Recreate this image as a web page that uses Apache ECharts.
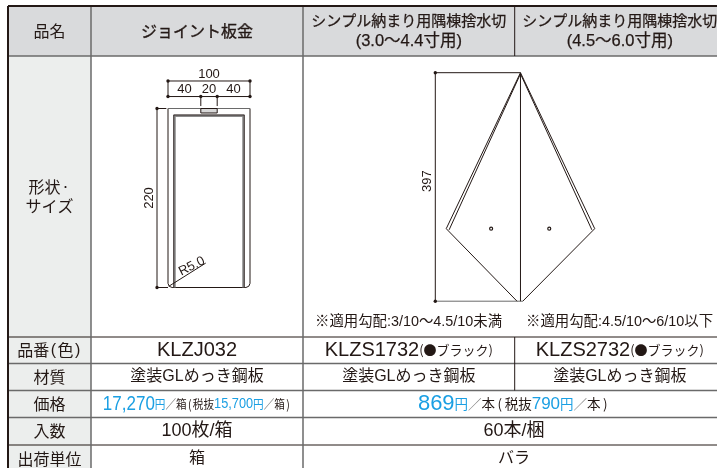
<!DOCTYPE html>
<html>
<head>
<meta charset="utf-8">
<style>
  html, body { margin: 0; padding: 0; background: #fff; }
  #main { width: 717px; height: 468px; }
</style>
<script src="https://cdn.jsdelivr.net/npm/echarts@6/dist/echarts.min.js"></script>
</head>
<body>
<div id="main"></div>
<script>
// table content
const rowNames = ['品名', '{m|形状}{d|・}\n{m|サイズ}', '{m|品番}{p|(}{m|色}{p|)}', '材質', '価格', '入数', '出荷単位'];
const productNames = ['ジョイント板金', 'シンプル納まり用隅棟捨水切', 'シンプル納まり用隅棟捨水切'];
const productRanges = ['', '(3.0〜4.4寸用)', '(4.5〜6.0寸用)'];
const productCodes = ['KLZJ032', 'KLZS1732', 'KLZS2732'];
const colorNote = '(●ブラック)';
const slopeNotes = ['※適用勾配:3/10〜4.5/10未満', '※適用勾配:4.5/10〜6/10以下'];
const material = '塗装GLめっき鋼板';
const prices = ['17,270', '869'];
const taxFreePrices = ['15,700', '790'];
const priceUnits = ['箱', '本'];
const packCounts = ['100枚/箱', '60本/梱'];
const shipUnits = ['箱', 'バラ'];

// drawing dimensions, mm
const plateWidth = 100;
const plateParts = [40, 20, 40];
const plateHeight = 220;
const plateRadius = 5;
const flashingHeight = 397;
const flashingHalf = 129;
const flashingShoulder = 271;
const flashingHoles = [-51, 50];

// table layout, px
const colX = [8, 91, 303, 514.7, 725];
const rowY = [6, 56, 337, 363.5, 390.5, 417.5, 445, 472];
const DARK = '#231815';
const GRAY = '#6a6a6a';
const BLUE = '#1a9fe3';
const FONT = '"Liberation Sans","Noto Sans CJK JP",sans-serif';
const CJK = '"Noto Sans CJK JP",sans-serif';

function midX(a, b) { return (colX[a] + colX[b]) / 2; }
function midY(r) { return (rowY[r] + rowY[r + 1]) / 2; }

function seg(api, pts, stroke, lineWidth) {
  return {
    type: 'polyline',
    shape: { points: pts.map(function (p) { return api.coord(p); }) },
    style: { fill: 'none', stroke: stroke || DARK, lineWidth: lineWidth || 1 }
  };
}
function dot(api, p) {
  const c = api.coord(p);
  return { type: 'circle', shape: { cx: c[0], cy: c[1], r: 1.7 }, style: { fill: DARK } };
}
function label(api, p, text, size, extra) {
  const c = api.coord(p);
  const el = {
    type: 'text', x: c[0], y: c[1],
    style: { text: text, fontSize: size, fontFamily: FONT, fill: DARK, align: 'center', verticalAlign: 'middle', lineHeight: size + 4 }
  };
  return Object.assign(el, extra || {});
}
function richLabel(api, p, text, rich, extra) {
  const c = api.coord(p);
  const el = { type: 'text', x: c[0], y: c[1], style: { text: text, align: 'center', verticalAlign: 'middle', rich: rich } };
  return Object.assign(el, extra || {});
}
function fill(api, x0, y0, x1, y1, color) {
  const a = api.coord([x0, y0]), b = api.coord([x1, y1]);
  return { type: 'rect', shape: { x: a[0], y: a[1], width: b[0] - a[0], height: b[1] - a[1] }, style: { fill: color } };
}

function priceText(i) {
  return '{num|' + prices[i] + '}{yen|円}{sl|／}{sm|' + priceUnits[i] + '}{pr|(}{sm|税抜}{num2|' + taxFreePrices[i] + '}{yen|円}{sl|／}{sm|' + priceUnits[i] + '}{pr|)}';
}
function priceRich(big, cjk, small, pad) {
  const base = { fontFamily: FONT, verticalAlign: 'middle' };
  return {
    num: Object.assign({}, base, { fontSize: big, fill: BLUE }),
    num2: Object.assign({}, base, { fontSize: small, fill: BLUE }),
    yen: Object.assign({}, base, { fontSize: cjk, fill: BLUE, fontFamily: CJK }),
    sm: Object.assign({}, base, { fontSize: cjk, fill: DARK, fontFamily: CJK }),
    pr: Object.assign({}, base, { fontSize: cjk, fill: DARK, fontFamily: CJK, padding: [0, pad] }),
    sl: Object.assign({}, base, { fontSize: cjk, fill: '#777', fontFamily: CJK })
  };
}

function renderTable(params, api) {
  const kids = [];
  kids.push(fill(api, colX[0], rowY[0], 725, rowY[1], '#d9dadc'));
  kids.push(fill(api, colX[0], rowY[1], colX[1], rowY[7], '#eceeed'));

  [[1, GRAY, 1.5], [2, DARK, 1], [3, GRAY, 1.5], [4, GRAY, 1.5], [5, GRAY, 1.5], [6, DARK, 1]].forEach(function (h) {
    kids.push(seg(api, [[colX[0], rowY[h[0]]], [725, rowY[h[0]]]], h[1], h[2]));
  });
  kids.push(seg(api, [[colX[1], rowY[0]], [colX[1], rowY[7]]], GRAY, 1.5));
  kids.push(seg(api, [[colX[2], rowY[0]], [colX[2], rowY[7]]], GRAY, 1.5));
  kids.push(seg(api, [[colX[3], rowY[0]], [colX[3], rowY[1]]], DARK, 1));
  kids.push(seg(api, [[colX[3], rowY[2]], [colX[3], rowY[4]]], DARK, 1));
  kids.push(seg(api, [[colX[0], rowY[0]], [725, rowY[0]]], DARK, 2));
  kids.push(seg(api, [[colX[0], rowY[0]], [colX[0], rowY[7]]], DARK, 2));

  const nameRich = {
    m: { fontSize: 16, fontFamily: CJK, fill: DARK, lineHeight: 19 },
    d: { fontSize: 10, fontFamily: CJK, fill: DARK, lineHeight: 19 },
    p: { fontSize: 16, fontFamily: FONT, fill: DARK, padding: [0, 1.4], lineHeight: 19 }
  };
  rowNames.forEach(function (name, r) {
    if (name.indexOf('{') >= 0) {
      kids.push(richLabel(api, [midX(0, 1), midY(r)], name, nameRich));
    } else {
      const el = label(api, [midX(0, 1), midY(r)], name, 16);
      el.style.fontFamily = CJK;
      kids.push(el);
    }
  });

  const head = label(api, [midX(1, 2), midY(0)], productNames[0], 16);
  head.style.fontFamily = CJK;
  head.style.stroke = DARK;
  head.style.lineWidth = 0.35;
  kids.push(head);
  const headRich = {
    a: { fontSize: 15, fontFamily: CJK, fill: DARK, lineHeight: 21, stroke: DARK, lineWidth: 0.25 },
    b: { fontSize: 16.5, fontFamily: FONT, fill: DARK, lineHeight: 22, stroke: DARK, lineWidth: 0.25 }
  };
  [1, 2].forEach(function (c) {
    kids.push(richLabel(api, [midX(c + 1, c + 2), midY(0)], '{a|' + productNames[c] + '}\n{b|' + productRanges[c] + '}', headRich));
  });

  kids.push(label(api, [midX(1, 2), midY(2)], productCodes[0], 20));
  const codeRich = {
    code: { fontSize: 20, fontFamily: FONT, fill: DARK },
    note: { fontSize: 13, fontFamily: CJK, fill: DARK }
  };
  [1, 2].forEach(function (c) {
    kids.push(richLabel(api, [midX(c + 1, c + 2), midY(2)], '{code|' + productCodes[c] + '}{note|' + colorNote + '}', codeRich));
  });

  kids.push(label(api, [midX(1, 2), midY(3)], material, 16));
  kids.push(label(api, [midX(2, 3), midY(3)], material, 16));
  kids.push(label(api, [midX(3, 4), midY(3)], material, 16));

  kids.push(richLabel(api, [midX(1, 2), midY(4)], priceText(0), priceRich(20, 12.5, 15, 1.5), { scaleX: 0.85 }));
  kids.push(richLabel(api, [(colX[2] + colX[4]) / 2, midY(4)], priceText(1), priceRich(22, 13.5, 17, 2.5)));

  kids.push(label(api, [midX(1, 2), midY(5)], packCounts[0], 18));
  kids.push(label(api, [(colX[2] + colX[4]) / 2, midY(5)], packCounts[1], 18));
  kids.push(label(api, [midX(1, 2), midY(6)], shipUnits[0], 16));
  kids.push(label(api, [(colX[2] + colX[4]) / 2, midY(6)], shipUnits[1], 16));

  [315, 526].forEach(function (x, i) {
    const el = label(api, [x, 322], slopeNotes[i], 14.4);
    el.style.align = 'left';
    kids.push(el);
  });
  return { type: 'group', children: kids };
}

function renderPlate(params, api) {
  const kids = [];
  const W = plateWidth, H = plateHeight, R = plateRadius;
  const a = plateParts[0], b = a + plateParts[1];

  // body with rounded bottom corners
  const k = 0.3 * R;
  kids.push(seg(api, [[0, 0], [0, H - R], [k, H - k], [R, H], [W - R, H], [W - k, H - k], [W, H - R], [W, 0]], DARK, 1));
  kids.push(seg(api, [[0, 0], [W, 0]], GRAY, 1));

  // inner frame
  const inX = 8, inY = 9;
  kids.push(seg(api, [[inX, H], [inX, inY], [W - inX, inY], [W - inX, H]], '#8a8a8a', 2.4));
  kids.push(seg(api, [[inX - 1, H], [inX - 1, inY - 1], [W - inX + 1, inY - 1], [W - inX + 1, H]], DARK, 0.8));

  // tab
  const p0 = api.coord([a, 0]), p1 = api.coord([b, 5.5]);
  kids.push({ type: 'rect', shape: { x: p0[0], y: p0[1], width: p1[0] - p0[0], height: p1[1] - p0[1] }, style: { fill: '#d8d8d8', stroke: DARK, lineWidth: 1 } });

  // dimensions
  const y1 = -33.8, y2 = -14.7;
  kids.push(seg(api, [[0, y1], [W, y1]]));
  kids.push(seg(api, [[0, y2], [W, y2]]));
  kids.push(seg(api, [[0, y1], [0, y2]]));
  kids.push(seg(api, [[W, y1], [W, y2]]));
  kids.push(seg(api, [[a, y2], [a, -3]]));
  kids.push(seg(api, [[b, y2], [b, -3]]));
  [[0, y1], [W, y1], [0, y2], [a, y2], [b, y2], [W, y2]].forEach(function (p) { kids.push(dot(api, p)); });
  const dx = -13.4;
  kids.push(seg(api, [[dx, 0], [dx, H]]));
  kids.push(seg(api, [[dx, 0], [-2, 0]]));
  kids.push(seg(api, [[dx, H], [0, H]]));
  kids.push(dot(api, [dx, 0]));
  kids.push(dot(api, [dx, H]));

  kids.push(label(api, [W / 2, -42], String(W), 13));
  kids.push(label(api, [a / 2, -23], String(plateParts[0]), 13));
  kids.push(label(api, [(a + b) / 2, -23], String(plateParts[1]), 13));
  kids.push(label(api, [(b + W) / 2, -23], String(plateParts[2]), 13));
  kids.push(label(api, [-22.3, H / 2], String(H), 13, { rotation: Math.PI / 2 }));

  // radius note
  kids.push(seg(api, [[1, H - 1.5], [46, H - 30]]));
  kids.push(label(api, [29, H - 26], 'R' + R.toFixed(1), 13, { rotation: 0.47 }));
  return { type: 'group', children: kids };
}

function renderFlashing(params, api) {
  const kids = [];
  const H = flashingHeight, S = flashingHalf, T = flashingShoulder;
  const dimX = -148;
  kids.push(seg(api, [[dimX, 0], [0, 0]]));
  kids.push(seg(api, [[dimX, 0], [dimX, H]]));
  kids.push(seg(api, [[dimX, H], [4, H]], GRAY, 1));
  kids.push(dot(api, [dimX, 0]));
  kids.push(dot(api, [dimX, H]));
  kids.push(label(api, [-162.4, 188.5], String(H), 13, { rotation: Math.PI / 2 }));

  kids.push(seg(api, [[0, 0], [0, H]]));
  kids.push(seg(api, [[0, 0], [-S, T], [-6, H]]));
  kids.push(seg(api, [[0, 0], [S, T], [4, H]]));
  kids.push(seg(api, [[0, 2], [-S + 5, T + 2]]));
  kids.push(seg(api, [[0, 2], [S - 5, T + 2]]));

  flashingHoles.forEach(function (x) {
    const c = api.coord([x, T]);
    kids.push({ type: 'circle', shape: { cx: c[0], cy: c[1], r: 1.5 }, style: { fill: '#fff', stroke: DARK, lineWidth: 1.2 } });
  });
  return { type: 'group', children: kids };
}

const hiddenX = function (i, min, max) { return { type: 'value', gridIndex: i, min: min, max: max, show: false }; };
const hiddenY = function (i, min, max) { return { type: 'value', gridIndex: i, min: min, max: max, inverse: true, show: false }; };

const chart = echarts.init(document.getElementById('main'), null, { renderer: 'canvas' });
chart.setOption({
  animation: false,
  backgroundColor: '#fff',
  grid: [
    { left: 0, top: 0, width: 717, height: 468 },
    { left: 168, top: 108.5, width: 82, height: 179 },
    { left: 435.3, top: 72.7, width: 160, height: 228.5 }
  ],
  xAxis: [hiddenX(0, 0, 717), hiddenX(1, 0, plateWidth), hiddenX(2, -148, 130)],
  yAxis: [hiddenY(0, 0, 468), hiddenY(1, 0, plateHeight), hiddenY(2, 0, flashingHeight)],
  series: [
    { type: 'custom', xAxisIndex: 0, yAxisIndex: 0, data: [[0, 0]], renderItem: renderTable, silent: true },
    { type: 'custom', xAxisIndex: 1, yAxisIndex: 1, data: [[0, 0]], renderItem: renderPlate, silent: true },
    { type: 'custom', xAxisIndex: 2, yAxisIndex: 2, data: [[0, 0]], renderItem: renderFlashing, silent: true }
  ]
});
</script>
</body>
</html>
